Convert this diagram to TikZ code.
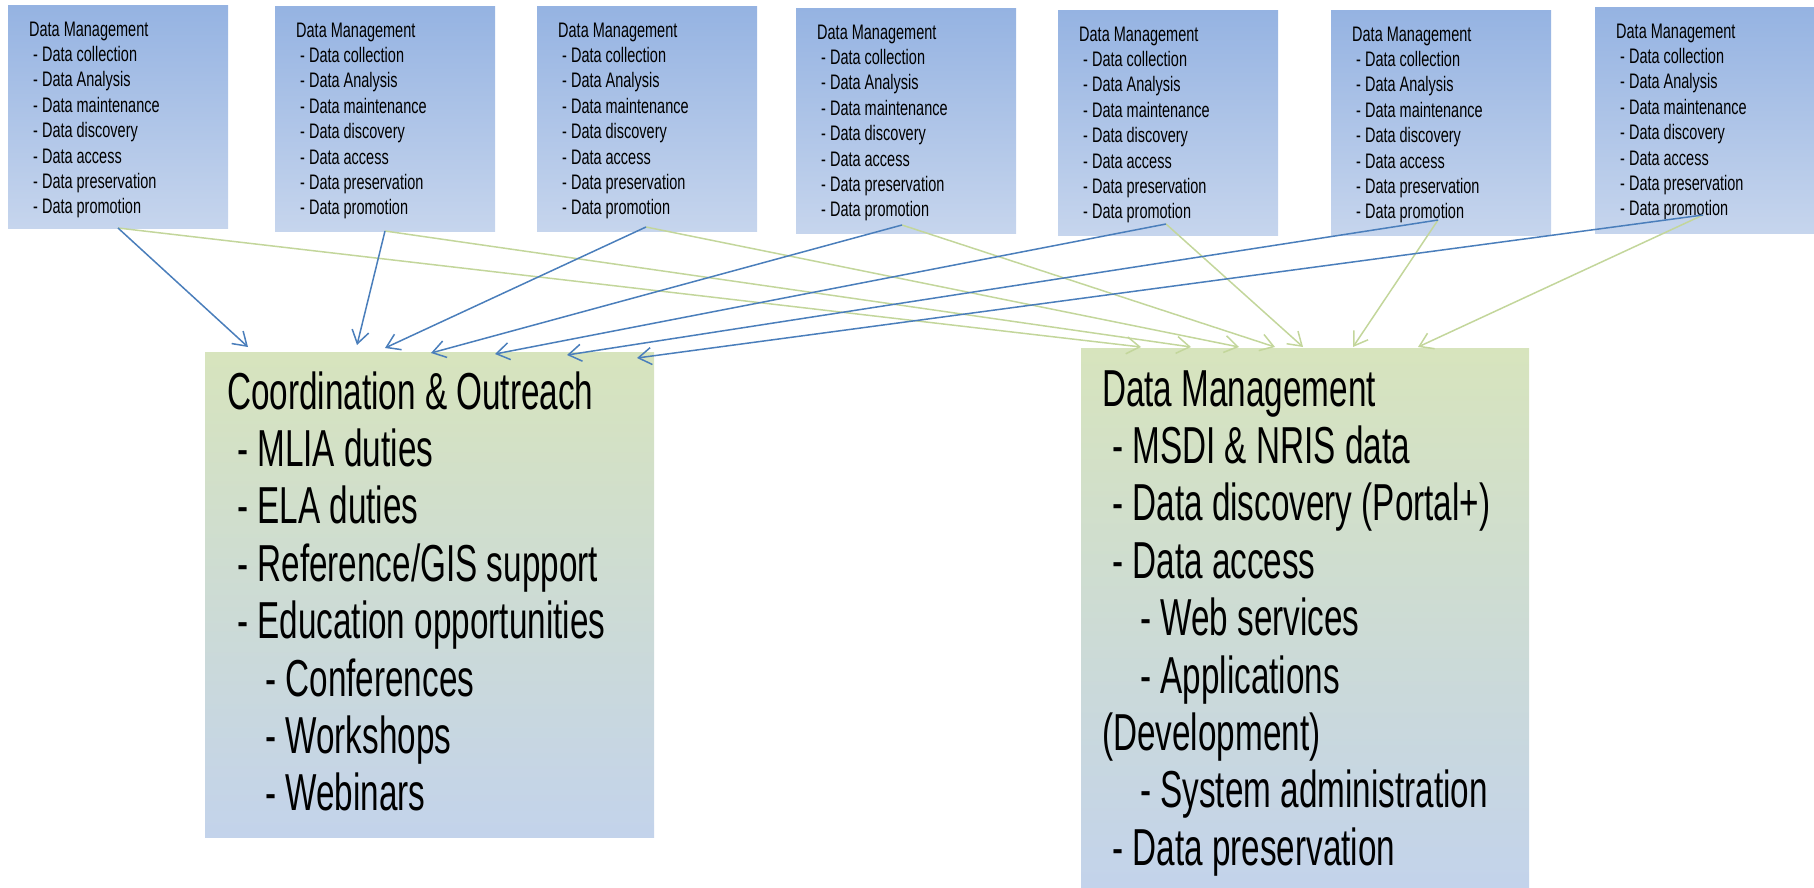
\documentclass[tikz,border=0pt]{standalone}
\usepackage{fontspec}
\setmainfont{Liberation Sans}[FakeStretch=0.64]
\newfontfamily\smallfont{Liberation Sans}[FakeStretch=0.69]
\usetikzlibrary{arrows.meta}
\definecolor{topA}{RGB}{149,179,226}
\definecolor{topB}{RGB}{198,213,237}
\definecolor{bigA}{RGB}{215,228,189}
\definecolor{bigB}{RGB}{195,211,235}
\definecolor{bline}{RGB}{74,126,187}
\definecolor{gline}{RGB}{195,214,155}
\newcommand\dmtext{\parbox[t]{200pt}{\raggedright Data Management\\
\hspace*{4pt}- Data collection\\
\hspace*{4pt}- Data Analysis\\
\hspace*{4pt}- Data maintenance\\
\hspace*{4pt}- Data discovery\\
\hspace*{4pt}- Data access\\
\hspace*{4pt}- Data preservation\\
\hspace*{4pt}- Data promotion}}
\tikzset{
  topbox/.style={anchor=north west, inner sep=0pt, outer sep=0pt, minimum width=220pt, top color=topA, bottom color=topB, draw=none},
  bigbox/.style={anchor=north west, inner sep=0pt, outer sep=0pt, minimum width=449pt, top color=bigA, bottom color=bigB, draw=none},
  smalltext/.style={anchor=base west, inner sep=0pt, font=\smallfont\fontsize{21}{25.4}\selectfont},
  bigtext/.style={anchor=base west, inner sep=0pt, font=\fontsize{52}{57.4}\selectfont},
  bluearrow/.style={draw=bline, line width=1.5pt, -{Straight Barb[length=13pt,width=17pt]}},
  greenarrow/.style={draw=gline, line width=1.5pt, -{Straight Barb[length=13pt,width=17pt]}}
}
\begin{document}
\begin{tikzpicture}[x=1pt,y=-1pt]
\useasboundingbox (0,0) rectangle (1814,887);
% top boxes
\node[topbox, minimum height=223pt] (t1) at (8,5) {};
\node[topbox, minimum height=225pt] (t2) at (275,6) {};
\node[topbox, minimum height=225pt] (t3) at (537,6) {};
\node[topbox, minimum height=225pt] (t4) at (796,8) {};
\node[topbox, minimum height=225pt] (t5) at (1058,10) {};
\node[topbox, minimum height=225pt] (t6) at (1331,10) {};
\node[topbox, minimum height=226pt, minimum width=219pt] (t7) at (1595,7) {};
\node[smalltext] (x1) at (29,36) {\dmtext};
\node[smalltext] (x2) at (296,37) {\dmtext};
\node[smalltext] (x3) at (558,37) {\dmtext};
\node[smalltext] (x4) at (817,39) {\dmtext};
\node[smalltext] (x5) at (1079,41) {\dmtext};
\node[smalltext] (x6) at (1352,41) {\dmtext};
\node[smalltext] (x7) at (1616,38) {\dmtext};
% big boxes
\node[bigbox, minimum height=485pt] (L) at (205,352) {};
\node[bigbox, minimum height=539pt, minimum width=448pt] (R) at (1081,348) {};
\node[bigtext] (Ltxt) at (227,409) {\parbox[t]{420pt}{\raggedright Coordination \& Outreach\\
\hspace*{10pt}- MLIA duties\\
\hspace*{10pt}- ELA duties\\
\hspace*{10pt}- Reference/GIS support\\
\hspace*{10pt}- Education opportunities\\
\hspace*{38pt}- Conferences\\
\hspace*{38pt}- Workshops\\
\hspace*{38pt}- Webinars}};
\node[bigtext] (Rtxt) at (1102,406) {\parbox[t]{420pt}{\raggedright Data Management\\
\hspace*{10pt}- MSDI \& NRIS data\\
\hspace*{10pt}- Data discovery (Portal+)\\
\hspace*{10pt}- Data access\\
\hspace*{38pt}- Web services\\
\hspace*{38pt}- Applications\\
(Development)\\
\hspace*{38pt}- System administration\\
\hspace*{10pt}- Data preservation}};
% arrow start points
\coordinate (s1) at (118,228);
\coordinate (s2) at (385,231);
\coordinate (s3) at (646,227);
\coordinate (s4) at (902,225);
\coordinate (s5) at (1166,224);
\coordinate (s6) at (1438,220);
\coordinate (s7) at (1703,215);
% blue ends
\coordinate (b1) at (248,347);
\coordinate (b2) at (357,345);
\coordinate (b3) at (385,348);
\coordinate (b4) at (431,353);
\coordinate (b5) at (495,354);
\coordinate (b6) at (567,355);
\coordinate (b7) at (637,358);
% green ends
\coordinate (g1) at (1141,347);
\coordinate (g2) at (1191,347);
\coordinate (g3) at (1239,347);
\coordinate (g4) at (1275,347);
\coordinate (g5) at (1303,347);
\coordinate (g6) at (1353,347);
\coordinate (g7) at (1418,347);
\foreach \i in {1,...,7}{
  \draw[greenarrow] (s\i) -- (g\i);
}
\foreach \i in {1,...,7}{
  \draw[bluearrow] (s\i) -- (b\i);
}
\end{tikzpicture}
\end{document}
